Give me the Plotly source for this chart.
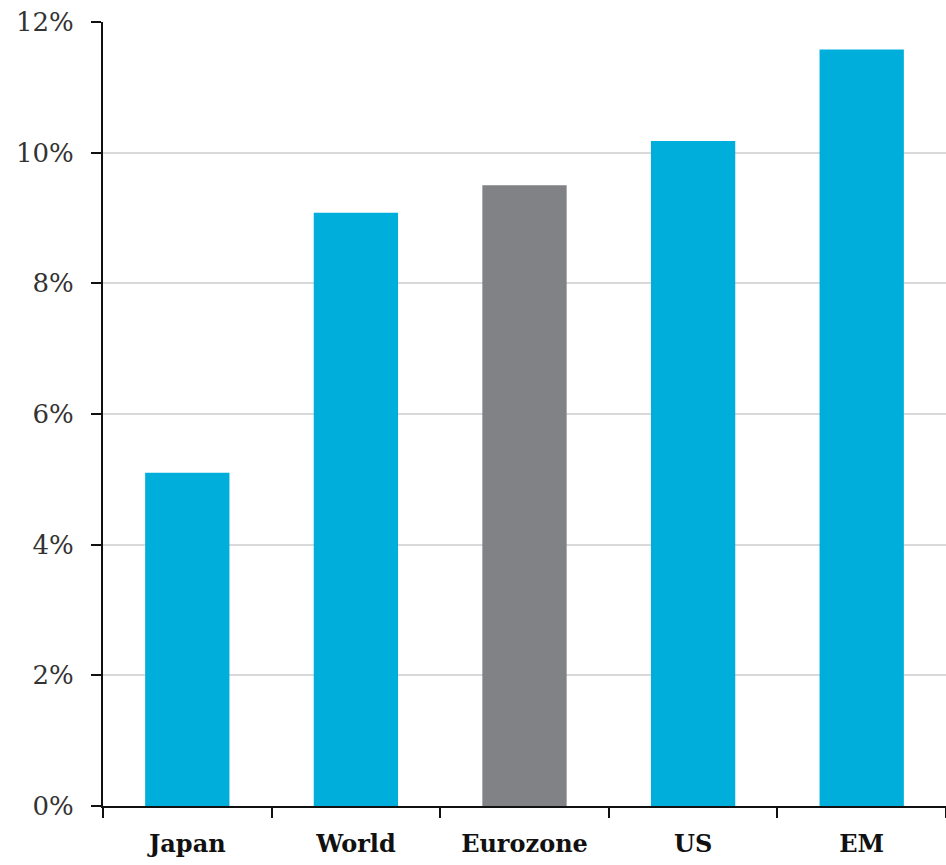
import plotly.graph_objects as go

categories = ["Japan", "World", "Eurozone", "US", "EM"]
values = [5.1, 9.08, 9.5, 10.18, 11.58]
colors = ["#00AEDB", "#00AEDB", "#818285", "#00AEDB", "#00AEDB"]
ytick_vals = [0, 2, 4, 6, 8, 10, 12]
ytick_text = ["0%", "2%", "4%", "6%", "8%", "10%", "12%"]

fig = go.Figure(go.Bar(x=categories, y=values, marker=dict(color=colors, line=dict(width=0)), width=0.5))

fig.update_layout(
    width=946, height=865,
    margin=dict(l=103, r=0, t=22, b=59),
    paper_bgcolor="white", plot_bgcolor="white",
    showlegend=False,
    font=dict(family="DejaVu Serif", color="#222222"),
)
fig.update_xaxes(
    showline=True, linecolor="#111111", linewidth=2,
    ticks="outside", tickson="boundaries", ticklen=10, tickwidth=2, tickcolor="#111111",
    tickfont=dict(family="DejaVu Serif", size=24, color="#111111", weight="bold"),
    ticklabelstandoff=15,
    showgrid=False,
)
fig.update_yaxes(
    range=[0, 12], tickvals=ytick_vals, ticktext=ytick_text,
    showline=True, linecolor="#111111", linewidth=2,
    ticks="outside", ticklen=10, tickwidth=2, tickcolor="#111111",
    tickfont=dict(family="DejaVu Serif", size=26, color="#333333"),
    ticklabelstandoff=12,
    showgrid=True, gridcolor="#D9D9D9", gridwidth=2,
    zeroline=False,
)
fig.write_html("out.html")
